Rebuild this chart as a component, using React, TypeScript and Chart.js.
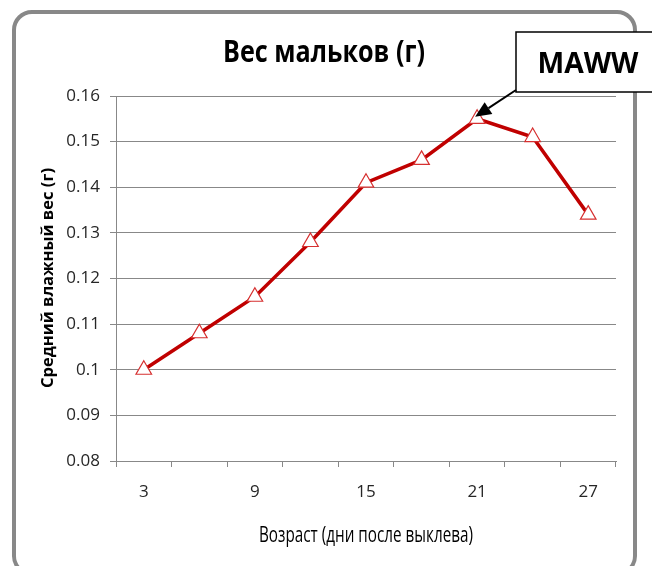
import React, { useEffect, useRef } from "react";
import { Chart, registerables } from "chart.js";

Chart.register(...registerables);

const ageLabels = ["3", "6", "9", "12", "15", "18", "21", "24", "27"];
const meanWetWeight = [0.1, 0.108, 0.116, 0.128, 0.141, 0.146, 0.155, 0.151, 0.134];
const yTicksMin = 0.08;
const yTicksMax = 0.16;
const yStep = 0.01;
const chartTitle = "Вес мальков (г)";
const xTitle = "Возраст (дни после выклева)";
const yTitle = "Средний влажный вес (г)";
const calloutText = "MAWW";
const calloutIndex = 6;

const FONT = "'Open Sans', 'Noto Sans', 'DejaVu Sans', sans-serif";

function drawFit(
  ctx: CanvasRenderingContext2D,
  text: string,
  cx: number,
  baseline: number,
  capH: number,
  width: number,
  weight: string
) {
  const size = capH / 0.714;
  ctx.save();
  ctx.font = `${weight} ${size}px ${FONT}`;
  const w = ctx.measureText(text).width;
  const sx = width / w;
  ctx.translate(cx, baseline);
  ctx.scale(sx, 1);
  ctx.textAlign = "center";
  ctx.textBaseline = "alphabetic";
  ctx.fillStyle = "#000";
  ctx.fillText(text, 0, 0);
  ctx.restore();
}

const decorPlugin = {
  id: "decor",
  beforeDraw(chart: any) {
    const ctx = chart.ctx as CanvasRenderingContext2D;
    ctx.save();
    ctx.fillStyle = "#fff";
    ctx.fillRect(0, 0, chart.width, chart.height);
    const x0 = 14, y0 = 12, x1 = 635, y1 = 574, r = 18;
    ctx.beginPath();
    ctx.moveTo(x0 + r, y0);
    ctx.lineTo(x1 - r, y0);
    ctx.arcTo(x1, y0, x1, y0 + r, r);
    ctx.lineTo(x1, y1 - r);
    ctx.arcTo(x1, y1, x1 - r, y1, r);
    ctx.lineTo(x0 + r, y1);
    ctx.arcTo(x0, y1, x0, y1 - r, r);
    ctx.lineTo(x0, y0 + r);
    ctx.arcTo(x0, y0, x0 + r, y0, r);
    ctx.closePath();
    ctx.lineWidth = 4;
    ctx.strokeStyle = "#888888";
    ctx.stroke();
    ctx.restore();
  },
  afterDraw(chart: any) {
    const ctx = chart.ctx as CanvasRenderingContext2D;
    const area = chart.chartArea;
    drawFit(ctx, chartTitle, 324, 62, 22, 202, "bold");
    drawFit(ctx, xTitle, (area.left + area.right) / 2, 542, 15, 214, "normal");
    ctx.save();
    ctx.translate(53, 278);
    ctx.rotate(-Math.PI / 2);
    drawFit(ctx, yTitle, 0, 0, 11.5, 220, "bold");
    ctx.restore();

    ctx.save();
    ctx.fillStyle = "#fff";
    ctx.strokeStyle = "#000";
    ctx.lineWidth = 1.5;
    ctx.fillRect(516, 32, 150, 60);
    ctx.strokeRect(516, 32, 150, 60);
    ctx.restore();
    drawFit(ctx, calloutText, 588, 73, 20, 101, "bold");

    const xs = chart.scales.x;
    const ys = chart.scales.y;
    const px = xs.getPixelForValue(calloutIndex);
    const py = ys.getPixelForValue(meanWetWeight[calloutIndex]);
    const tx = px - 2, ty = py - 2;
    const sx = 516, sy = 90;
    const ang = Math.atan2(ty - sy, tx - sx);
    const hl = 16, hw = 7;
    const bx = tx - hl * Math.cos(ang), by = ty - hl * Math.sin(ang);
    ctx.save();
    ctx.strokeStyle = "#000";
    ctx.fillStyle = "#000";
    ctx.lineWidth = 2;
    ctx.beginPath();
    ctx.moveTo(sx, sy);
    ctx.lineTo(bx, by);
    ctx.stroke();
    ctx.beginPath();
    ctx.moveTo(tx, ty);
    ctx.lineTo(bx + hw * Math.sin(ang), by - hw * Math.cos(ang));
    ctx.lineTo(bx - hw * Math.sin(ang), by + hw * Math.cos(ang));
    ctx.closePath();
    ctx.fill();
    ctx.restore();
  },
};

export default function App() {
  const canvasRef = useRef<HTMLCanvasElement | null>(null);

  useEffect(() => {
    const canvas = canvasRef.current;
    if (!canvas) return;
    const chart = new Chart(canvas, {
      type: "line",
      data: {
        labels: ageLabels,
        datasets: [
          {
            data: meanWetWeight,
            borderColor: "#C00000",
            borderWidth: 3.5,
            pointStyle: "triangle",
            pointRadius: 9,
            pointBackgroundColor: "#ffffff",
            pointBorderColor: "#d63030",
            pointBorderWidth: 1.2,
            tension: 0,
            fill: false,
          },
        ],
      },
      options: {
        responsive: false,
        animation: false,
        devicePixelRatio: 1,
        layout: { padding: { left: 0, top: 96, right: 36, bottom: 0 } },
        plugins: {
          legend: { display: false },
          tooltip: { enabled: false },
          title: { display: false },
        },
        scales: {
          x: {
            type: "category",
            offset: true,
            afterFit: (s: any) => {
              s.height = 105;
            },
            grid: {
              offset: true,
              drawOnChartArea: false,
              drawTicks: true,
              tickLength: 6,
              color: "#888888",
            },
            border: { display: true, color: "#888888", width: 1 },
            ticks: {
              autoSkip: false,
              maxRotation: 0,
              padding: 15,
              color: "#262626",
              font: { family: FONT, size: 17 },
              callback: function (this: any, v: any, i: number) {
                return i % 2 === 0 ? ageLabels[i] : "";
              },
            },
          },
          y: {
            min: yTicksMin,
            max: yTicksMax,
            afterFit: (s: any) => {
              s.width = 116;
            },
            grid: {
              drawOnChartArea: true,
              drawTicks: true,
              tickLength: 6,
              color: "#888888",
            },
            border: { display: true, color: "#888888", width: 1 },
            ticks: {
              stepSize: yStep,
              padding: 10,
              color: "#262626",
              font: { family: FONT, size: 17 },
              callback: (v: any) => String(Number(Number(v).toFixed(2))),
            },
          },
        },
      },
      plugins: [decorPlugin],
    });
    if ((document as any).fonts && (document as any).fonts.load) {
      Promise.all([
        (document as any).fonts.load(`bold 20px 'Open Sans'`),
        (document as any).fonts.load(`20px 'Open Sans'`),
      ])
        .then(() => chart.update())
        .catch(() => {});
    }
    return () => chart.destroy();
  }, []);

  return (
    <div style={{ position: "absolute", left: 0, top: 0, width: 652, height: 566 }}>
      <canvas ref={canvasRef} width={652} height={566} style={{ width: 652, height: 566 }} />
    </div>
  );
}
